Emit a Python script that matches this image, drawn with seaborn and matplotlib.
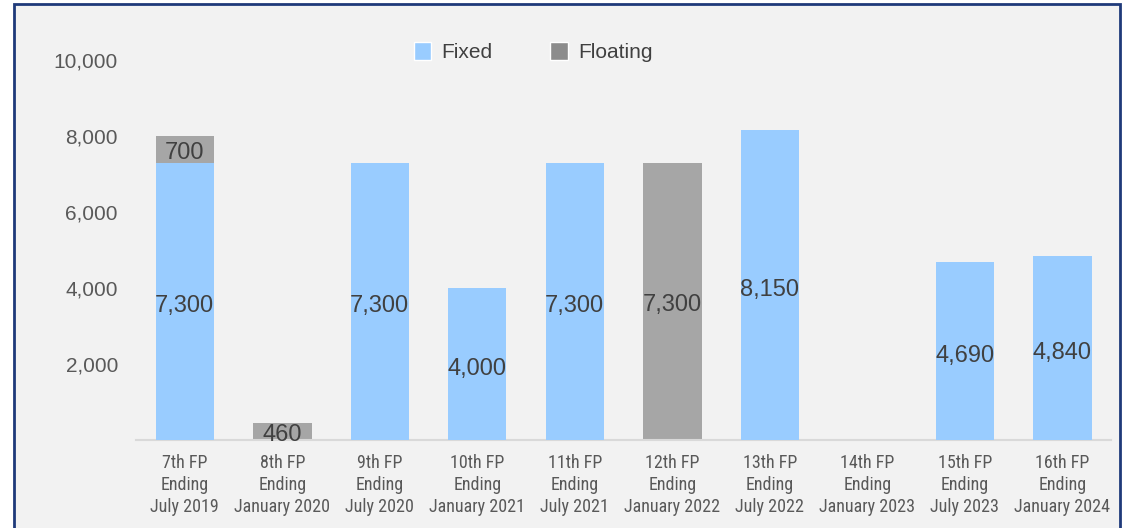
import matplotlib
matplotlib.use("Agg")
import matplotlib.pyplot as plt
from matplotlib import font_manager as fm
from matplotlib.patches import Rectangle, Patch
import seaborn as sns
import pandas as pd

# Borrowings by fiscal period (JPY million)
periods = [
    "7th FP\nEnding\nJuly 2019",
    "8th FP\nEnding\nJanuary 2020",
    "9th FP\nEnding\nJuly 2020",
    "10th FP\nEnding\nJanuary 2021",
    "11th FP\nEnding\nJuly 2021",
    "12th FP\nEnding\nJanuary 2022",
    "13th FP\nEnding\nJuly 2022",
    "14th FP\nEnding\nJanuary 2023",
    "15th FP\nEnding\nJuly 2023",
    "16th FP\nEnding\nJanuary 2024",
]
fixed = [7300, 0, 7300, 4000, 7300, 0, 8150, 0, 4690, 4840]
floating = [700, 460, 0, 0, 0, 7300, 0, 0, 0, 0]
y_ticks = [2000, 4000, 6000, 8000, 10000]

FIXED_C = "#99ccff"
FLOAT_C = "#a6a6a6"
FLOAT_LEGEND_C = "#8c8c8c"
TEXT_C = "#404040"
TICK_C = "#595959"

sns.set_theme(style="white")
plt.rcParams["font.family"] = ["Liberation Sans", "DejaVu Sans"]

W, H = 1124, 528
fig = plt.figure(figsize=(W / 100, H / 100), dpi=100, facecolor="white")


def category_font(size=13, target_px=92.0):
    """Pick a regular narrow/condensed sans face for the period labels."""
    prefixes = ("Liberation Sans", "Noto Sans", "DejaVu Sans", "Roboto",
                "Open Sans", "Lato", "Inter")
    renderer = fig.canvas.get_renderer()
    best, best_err = None, None
    for f in fm.fontManager.ttflist:
        if f.style != "normal" or f.weight not in (400, "normal", "regular"):
            continue
        if not f.name.startswith(prefixes):
            continue
        if any(k in f.name for k in ("CJK", "Mono", "Serif")):
            continue
        rest = next(f.name[len(p):].strip() for p in prefixes if f.name.startswith(p))
        if rest and not any(k in rest for k in ("Narrow", "Condensed", "Cond")):
            continue
        prop = fm.FontProperties(fname=f.fname, size=size)
        t = fig.text(0, 0, "January 2020", fontproperties=prop)
        try:
            w = t.get_window_extent(renderer).width
        except Exception:
            continue
        finally:
            t.remove()
        err = abs(w - target_px)
        if best_err is None or err < best_err:
            best, best_err = prop, err
    return best or fm.FontProperties(family="Liberation Sans", size=12)


df = pd.DataFrame({"period": periods, "fixed": fixed, "floating": floating})
df["total"] = df["fixed"] + df["floating"]

# framed panel behind the chart
panel = Rectangle((14 / W, -0.05), (1120 - 14) / W, 1.05 - 4 / H,
                  transform=fig.transFigure, facecolor="#f2f2f2",
                  edgecolor="#1f3a7a", linewidth=2, zorder=-5)
fig.patches.append(panel)

ax = fig.add_axes([136 / W, (H - 440) / H, 975 / W, 380 / H])
ax.set_facecolor("none")
ax.set_zorder(1)

# floating stacked on top of fixed: draw totals first, fixed over them
sns.barplot(data=df, x="period", y="total", color=FLOAT_C, width=0.6,
            saturation=1, linewidth=0, ax=ax, zorder=2)
sns.barplot(data=df, x="period", y="fixed", color=FIXED_C, width=0.6,
            saturation=1, linewidth=0, ax=ax, zorder=3)

ax.set_xlim(-0.5, len(periods) - 0.5)
ax.set_ylim(0, 10000)
ax.set_yticks(y_ticks)
ax.set_yticklabels([f"{v:,}" for v in y_ticks], fontsize=15, color=TICK_C)
ax.tick_params(axis="y", length=0, pad=13)
ax.set_xticks(range(len(periods)))
ax.set_xticklabels(periods, color=TICK_C, linespacing=1.28,
                   fontproperties=category_font())
ax.tick_params(axis="x", length=0, pad=10)
ax.set_xlabel("")
ax.set_ylabel("")

for s in ["top", "right", "left"]:
    ax.spines[s].set_visible(False)
ax.spines["bottom"].set_color("#d9d9d9")
ax.spines["bottom"].set_linewidth(1.5)

# value labels at the centre of each segment
for i, (fx, fl) in enumerate(zip(fixed, floating)):
    if fx:
        ax.annotate(f"{fx:,}", (i, fx / 2), xytext=(0, -3.5),
                    textcoords="offset points", ha="center", va="center",
                    fontsize=17, color=TEXT_C, zorder=5)
    if fl:
        ax.annotate(f"{fl:,}", (i, fx + fl / 2), xytext=(0, -3),
                    textcoords="offset points", ha="center", va="center",
                    fontsize=17, color=TEXT_C, zorder=5)

handles = [Patch(facecolor=FIXED_C, label="Fixed"),
           Patch(facecolor=FLOAT_LEGEND_C, label="Floating")]
fig.legend(handles=handles, loc="center", bbox_to_anchor=(533 / W, 1 - 52 / H),
           ncol=2, frameon=False, fontsize=15, labelcolor=TEXT_C,
           handlelength=0.82, handleheight=0.95, handletextpad=0.5,
           columnspacing=2.8)

fig.savefig("out.png", dpi=100, facecolor=fig.get_facecolor())
